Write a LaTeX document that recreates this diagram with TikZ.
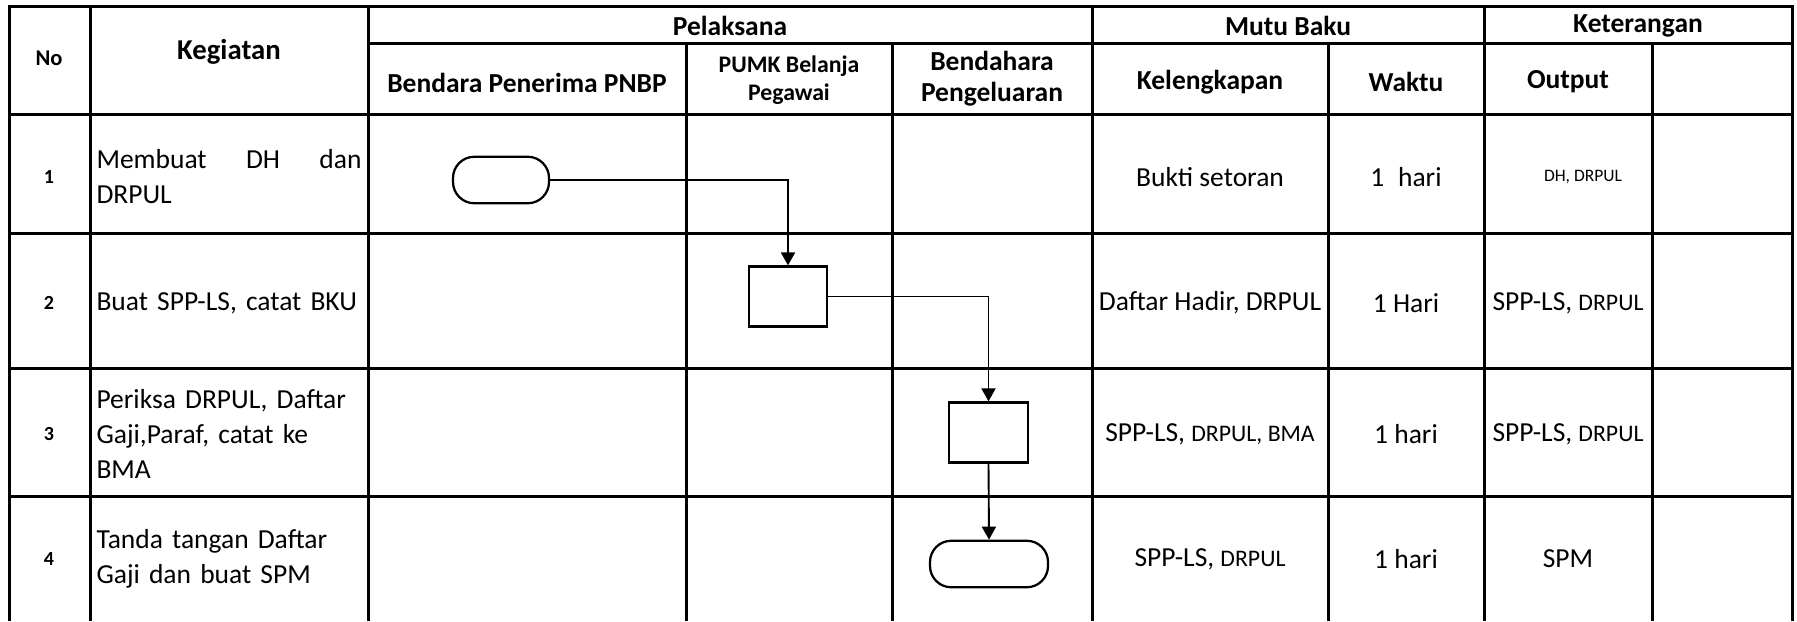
\documentclass[tikz,border=0pt]{standalone}
\usepackage{fontspec}
\setmainfont{Carlito}
\usetikzlibrary{arrows.meta,positioning,calc}
\newcommand{\fsz}[2]{\fontsize{#1}{#2}\selectfont}
\newcommand{\smtxt}[1]{{\fsz{9.5}{11}#1}}
\tikzset{
  >={Triangle[length=5.2pt,width=5.6pt]},
  rule/.style={line width=1.2pt},
  hd/.style={font=\bfseries\fsz{11}{12.5},align=center,inner sep=0pt},
  cell/.style={font=\fsz{11}{14},align=center,inner sep=0pt},
  act/.style={font=\fsz{11}{14},align=left,text width=106pt,anchor=west,inner sep=0pt},
  num/.style={font=\bfseries\fsz{8}{10},inner sep=0pt},
  terminal/.style={draw,line width=0.9pt,rounded corners=8.5pt,minimum width=#1,minimum height=18.6pt},
  terminal/.default=38.4pt,
  process/.style={draw,line width=0.9pt,minimum width=31.4pt,minimum height=24pt},
  flow/.style={->,line width=0.75pt},
}

\begin{document}
\begin{tikzpicture}[x=0.4pt,y=-0.4pt]
  \useasboundingbox (0,0) rectangle (1797,621);
  % table
  \draw[rule] (9,621) -- (9,6) -- (1792,6) -- (1792,621);
  \draw[rule] (368,43) -- (1792,43);
  \foreach \y in {114,233,368,496} \draw[rule] (9,\y) -- (1792,\y);
  \foreach \x/\t in {90/6,368/6,686/43,892/43,1092/6,1328/43,1484/6,1652/43}
    \draw[rule] (\x,\t) -- (\x,621);
  % headers
  \node[hd,font=\bfseries\fsz{9}{11}] (hno) at (49,58) {No};
  \node[hd,font=\bfseries\fsz{11.5}{13}] (hkeg) at (229,52) {Kegiatan};
  \node[hd] (hpel) at (730,26) {Pelaksana};
  \node[hd] (hmut) at (1288,26) {Mutu Baku};
  \node[hd] (hket) at (1638,26) {Keterangan};
  \node[hd] (hben) at (527,83) {Bendara Penerima PNBP};
  \node[hd,font=\bfseries\fsz{9.5}{11}] (hpum) at (789,80) {PUMK Belanja\\Pegawai};
  \node[hd] (hbdh) at (992,79) {Bendahara\\Pengeluaran};
  \node[hd] (hkel) at (1210,82) {Kelengkapan};
  \node[hd] (hwak) at (1406,82) {Waktu};
  \node[hd] (hout) at (1568,82) {Output};
  % rows
  \foreach \y/\keg/\kel/\wkt/\out [count=\i] in {
      177/{\hbox to 106pt{Membuat\hfill DH\hfill dan}\\DRPUL}/{Bukti setoran}/{1\enspace hari}/{\hspace*{12pt}\fsz{7}{9}DH, DRPUL},
      303/{Buat SPP-LS, catat BKU}/{Daftar Hadir, DRPUL}/{1 Hari}/{SPP-LS, \smtxt{DRPUL}},
      434/{Periksa DRPUL, Daftar\\Gaji,Paraf, catat ke\\BMA}/{SPP-LS, \smtxt{DRPUL, BMA}}/{1 hari}/{SPP-LS, \smtxt{DRPUL}},
      559/{Tanda tangan Daftar\\Gaji dan buat SPM}/{SPP-LS, \smtxt{DRPUL}}/{1 hari}/{SPM}}{
    \node[num] (n\i) at (49,\y) {\i};
    \node[act] (k\i) at (96,\y) {\keg};
    \node[cell] (kel\i) at (1210,\y) {\kel};
    \node[cell] (w\i) at (1406,\y) {\wkt};
    \node[cell] (o\i) at (1568,\y) {\out};
  }
  % flow
  \node[terminal] (t1) at (501,180) {};
  \node[process] (p2) at (788,296.5) {};
  \node[process] (p3) at (988.5,432.5) {};
  \node[terminal=47.2pt] (t4) at (989,564) {};
  \draw[flow] (t1.east) -| (p2.north);
  \draw[flow] (p2.east) -| (p3.north);
  \draw[flow] (p3.south) -- (t4.north);
\end{tikzpicture}
\end{document}
